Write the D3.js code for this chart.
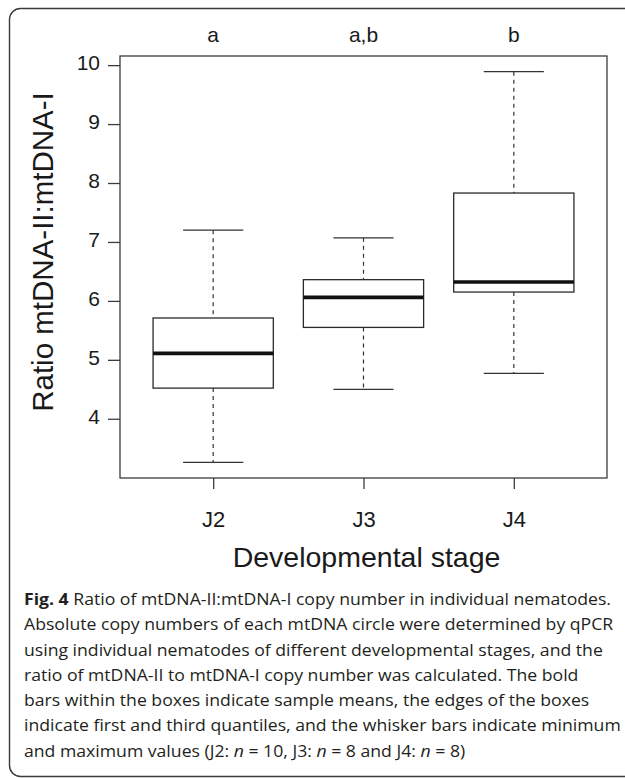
<!DOCTYPE html>
<html>
<head>
<meta charset="utf-8">
<script src="https://cdn.jsdelivr.net/npm/d3@7/dist/d3.min.js"></script>
<style>
    body { margin: 0; background: #fff; }
    svg { display: block; }
</style>
</head>
<body>
<div id="boxplot"></div>
<script>
// data
var stages = ["J2", "J3", "J4"];
var minVals = [3.26, 4.50, 4.77];
var q1Vals = [4.52, 5.55, 6.15];
var medVals = [5.11, 6.06, 6.32];
var q3Vals = [5.71, 6.36, 7.83];
var maxVals = [7.20, 7.07, 9.89];
var groupLetters = ["a", "a,b", "b"];
var yTicks = [4, 5, 6, 7, 8, 9, 10];

var captionLines = [
    [{t: "Fig. 4", b: true}, {t: " Ratio of mtDNA-II:mtDNA-I copy number in individual nematodes."}],
    [{t: "Absolute copy numbers of each mtDNA circle were determined by qPCR"}],
    [{t: "using individual nematodes of different developmental stages, and the"}],
    [{t: "ratio of mtDNA-II to mtDNA-I copy number was calculated. The bold"}],
    [{t: "bars within the boxes indicate sample means, the edges of the boxes"}],
    [{t: "indicate first and third quantiles, and the whisker bars indicate minimum"}],
    [{t: "and maximum values (J2: "}, {t: "n", i: true}, {t: " = 10, J3: "}, {t: "n", i: true},
     {t: " = 8 and J4: "}, {t: "n", i: true}, {t: " = 8)"}]
];

function drawChart() {
    var W = 625, H = 778;
    var plot = {left: 120, right: 607, top: 56, bottom: 478};
    var plotFont = "'Liberation Sans', Arial, sans-serif";

    var svg = d3.select("#boxplot").append("svg")
        .attr("width", W)
        .attr("height", H);

    // rounded frame round the whole figure (right side runs off the page)
    svg.append("rect")
        .attr("x", 9.5).attr("y", 8.5)
        .attr("width", 630).attr("height", 768)
        .attr("rx", 11).attr("ry", 11)
        .attr("fill", "none")
        .attr("stroke", "#3a3a3a")
        .attr("stroke-width", 1.4);

    // R style ranges: data extent padded by 4%
    var lo = d3.min(minVals), hi = d3.max(maxVals);
    var pad = (hi - lo) * 0.04;
    var y = d3.scaleLinear().domain([lo - pad, hi + pad]).range([plot.bottom, plot.top]);
    var xPad = stages.length * 0.04;
    var x = d3.scaleLinear().domain([0.5 - xPad, stages.length + 0.5 + xPad]).range([plot.left, plot.right]);

    var g = svg.append("g");

    // plot box
    g.append("rect")
        .attr("x", plot.left).attr("y", plot.top)
        .attr("width", plot.right - plot.left)
        .attr("height", plot.bottom - plot.top)
        .attr("fill", "none")
        .attr("stroke", "#3c3c3c")
        .attr("stroke-width", 1.3);

    // y axis
    var yAxis = g.append("g")
        .attr("transform", "translate(" + plot.left + ",0)")
        .call(d3.axisLeft(y).tickValues(yTicks).tickSize(12).tickPadding(8));
    yAxis.select(".domain").remove();
    yAxis.selectAll("line").attr("stroke", "#3c3c3c").attr("stroke-width", 1.3);
    yAxis.selectAll("text")
        .attr("font-family", plotFont)
        .attr("font-size", 21)
        .attr("dy", "0.22em")
        .attr("fill", "#1a1a1a");

    // x axis
    var xAxis = g.append("g")
        .attr("transform", "translate(0," + plot.bottom + ")")
        .call(d3.axisBottom(x).tickValues(d3.range(1, stages.length + 1))
            .tickFormat(function (d) { return stages[d - 1]; })
            .tickSize(11).tickPadding(22));
    xAxis.select(".domain").remove();
    xAxis.selectAll("line").attr("stroke", "#3c3c3c").attr("stroke-width", 1.3);
    xAxis.selectAll("text")
        .attr("font-family", plotFont)
        .attr("font-size", 22)
        .attr("fill", "#1a1a1a");

    // boxes
    var boxes = g.selectAll(".box")
        .data(stages)
        .enter().append("g")
        .attr("class", "box");

    boxes.each(function (d, i) {
        var b = d3.select(this);
        var cx = x(i + 1);
        // whiskers (dashed)
        b.append("line")
            .attr("x1", cx).attr("x2", cx)
            .attr("y1", y(maxVals[i])).attr("y2", y(q3Vals[i]))
            .attr("stroke", "#333").attr("stroke-width", 1.2)
            .attr("stroke-dasharray", "4,4");
        b.append("line")
            .attr("x1", cx).attr("x2", cx)
            .attr("y1", y(q1Vals[i])).attr("y2", y(minVals[i]))
            .attr("stroke", "#333").attr("stroke-width", 1.2)
            .attr("stroke-dasharray", "4,4");
        // caps
        [minVals[i], maxVals[i]].forEach(function (v) {
            b.append("line")
                .attr("x1", x(i + 0.8)).attr("x2", x(i + 1.2))
                .attr("y1", y(v)).attr("y2", y(v))
                .attr("stroke", "#333").attr("stroke-width", 1.3);
        });
        // box
        b.append("rect")
            .attr("x", x(i + 0.6))
            .attr("y", y(q3Vals[i]))
            .attr("width", x(i + 1.4) - x(i + 0.6))
            .attr("height", y(q1Vals[i]) - y(q3Vals[i]))
            .attr("fill", "#fff")
            .attr("stroke", "#2a2a2a")
            .attr("stroke-width", 1.3);
        // median bar
        b.append("line")
            .attr("x1", x(i + 0.6)).attr("x2", x(i + 1.4))
            .attr("y1", y(medVals[i])).attr("y2", y(medVals[i]))
            .attr("stroke", "#111").attr("stroke-width", 3.6);
    });

    // significance letters
    g.selectAll(".letter")
        .data(groupLetters)
        .enter().append("text")
        .attr("class", "letter")
        .attr("x", function (d, i) { return x(i + 1); })
        .attr("y", 42)
        .attr("text-anchor", "middle")
        .attr("font-family", plotFont)
        .attr("font-size", 21)
        .attr("fill", "#1a1a1a")
        .text(function (d) { return d; });

    // axis titles
    g.append("text")
        .attr("transform", "translate(53," + ((plot.top + plot.bottom) / 2 - 15) + ") rotate(-90)")
        .attr("text-anchor", "middle")
        .attr("font-family", plotFont)
        .attr("font-size", 29.5)
        .attr("fill", "#1a1a1a")
        .text("Ratio mtDNA-II:mtDNA-I");

    g.append("text")
        .attr("x", (plot.left + plot.right) / 2 + 3)
        .attr("y", 567)
        .attr("text-anchor", "middle")
        .attr("font-family", plotFont)
        .attr("font-size", 28.5)
        .attr("fill", "#1a1a1a")
        .text("Developmental stage");

    // caption, set in a humanist sans and squeezed a little sideways
    var cap = svg.append("g")
        .attr("font-family", "'Open Sans', 'Noto Sans', sans-serif")
        .attr("fill", "#231f20");

    var lines = cap.selectAll("text")
        .data(captionLines)
        .enter().append("text")
        .attr("x", 0)
        .attr("y", function (d, i) { return 605 + i * 25.3; })
        .attr("font-size", 16.4);

    lines.selectAll("tspan")
        .data(function (d) { return d; })
        .enter().append("tspan")
        .attr("font-weight", function (d) { return d.b ? "bold" : null; })
        .attr("font-style", function (d) { return d.i ? "italic" : null; })
        .text(function (d) { return d.t; });

    // widest line should run from x=24 to about x=621
    var widest = d3.max(lines.nodes(), function (n) { return n.getComputedTextLength(); });
    var k = 597 / widest;
    cap.attr("transform", "translate(24,0) scale(" + k + ",1)");
}

drawChart();
</script>
</body>
</html>
